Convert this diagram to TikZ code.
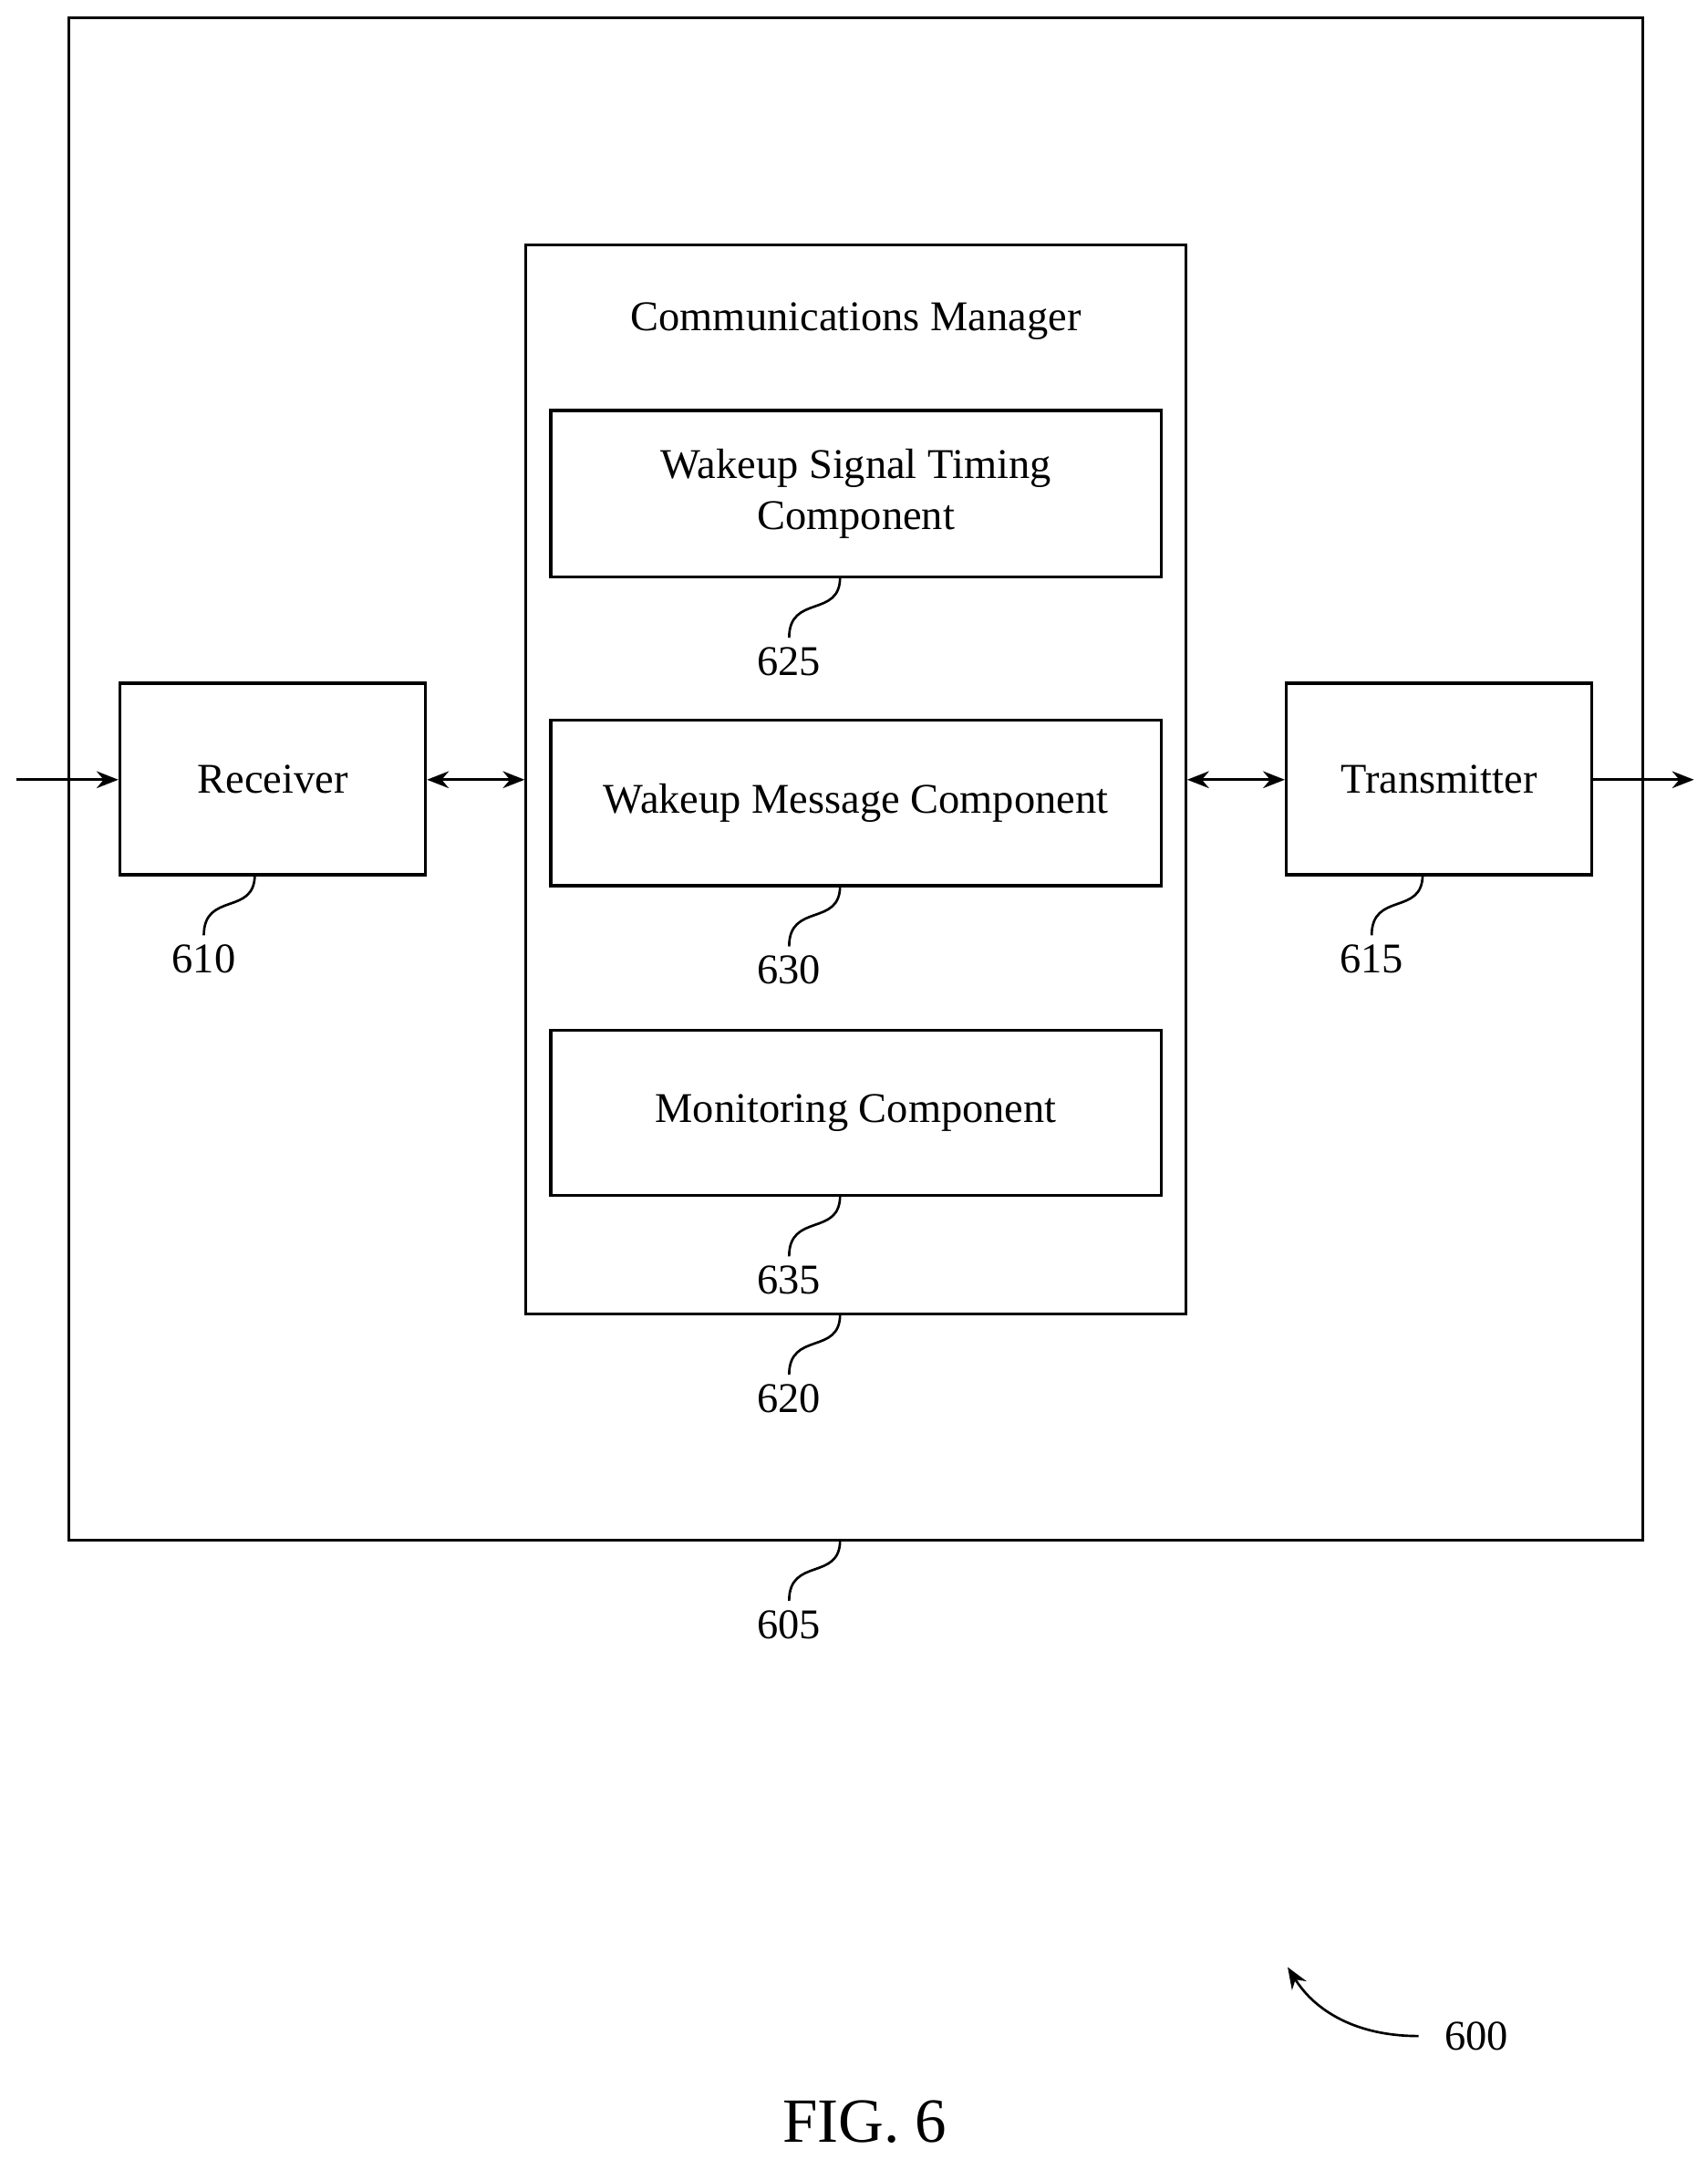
\documentclass[tikz,border=0pt]{standalone}
\usepackage{fontspec}
\setmainfont{Liberation Serif}
\usetikzlibrary{positioning}
\usetikzlibrary{arrows.meta}
\begin{document}
\begin{tikzpicture}[x=0.02cm, y=-0.02cm]

\useasboundingbox (0,0) rectangle (1240,1568);

% Styles
\tikzstyle{box} =
	[draw, line width=1.2pt, align=center, font=\fontsize{17.5}{21}\selectfont]
\tikzstyle{label text} =
	[font=\fontsize{17.5}{21}\selectfont, inner sep=2pt]
\tikzstyle{leader} =
	[line width=1pt]
\tikzstyle{signal} =
	[line width=1pt, -{Stealth[length=9pt,width=7pt]}]

% Frames
\draw[line width=1.2pt] (50,13) rectangle (1193,1118);
\node (Manager) [box, minimum width=479*0.02cm, minimum height=776*0.02cm] at (621.5,566) {};
\node [label text] at (621.5,233) {Communications Manager};

% Modules
\node (TimingComp) [box, minimum width=443*0.02cm, minimum height=121*0.02cm] at (621.5,358.5)
	{Wakeup Signal Timing\\Component};
\node (MessageComp) [box, minimum width=443*0.02cm, minimum height=120*0.02cm] at (621.5,583)
	{Wakeup Message Component};
\node (MonitorComp) [box, minimum width=443*0.02cm, minimum height=120*0.02cm] at (621.5,808)
	{Monitoring Component};
\node (Receiver) [box, minimum width=222*0.02cm, minimum height=139*0.02cm] at (198,565.5) {Receiver};
\node (Transmitter) [box, minimum width=222*0.02cm, minimum height=139*0.02cm] at (1045,565.5) {Transmitter};

% Signals
\coordinate (In) at (12,566);
\coordinate (Out) at (1230,566);
\draw[signal] (In) -- (Receiver.west |- In);
\draw[signal, {Stealth[length=9pt,width=7pt]}-{Stealth[length=9pt,width=7pt]}]
	(Receiver.east |- In) -- (Manager.west |- In);
\draw[signal, {Stealth[length=9pt,width=7pt]}-{Stealth[length=9pt,width=7pt]}]
	(Manager.east |- In) -- (Transmitter.west |- In);
\draw[signal] (Transmitter.east |- In) -- (Out);

% Reference numerals
\foreach \name/\sx/\sy/\num in {TimingComp/610/419/625, MessageComp/610/643/630,
		MonitorComp/610/868/635, Manager/610/954/620, Frame/610/1118/605,
		Receiver/185/635/610, Transmitter/1033/635/615} {
	\draw[leader] (\sx,\sy) .. controls (\sx,\sy+30) and (\sx-37,\sy+12) .. (\sx-37,\sy+44);
	\node (Num\num) [label text, below] at (\sx-37,\sy+47) {\num};
}

\node (Fig) [label text, anchor=west] at (1045,1478) {600};
\draw[leader, -{Stealth[length=9pt,width=7pt]}] (1030,1478) .. controls (985,1478) and (955,1460) .. (935,1428);

\node (Caption) [font=\fontsize{26}{30}\selectfont] at (628,1540) {FIG. 6};

\end{tikzpicture}
\end{document}
